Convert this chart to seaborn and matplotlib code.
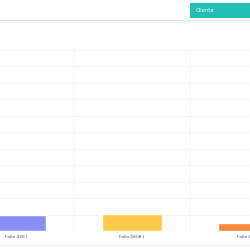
import matplotlib
matplotlib.use("Agg")
import matplotlib.pyplot as plt
import seaborn as sns
import pandas as pd
from matplotlib.patches import Rectangle

categories = ["Folio 426 |", "Folio 2608 |", "Folio 660 |"]
values = [1.0, 1.05, 0.49]
colors = ["#8890F6", "#FFCA4A", "#F5893A"]
button_label = "Cliente"

sns.set_theme(style="white")
plt.rcParams['font.family'] = ['DejaVu Sans']

fig = plt.figure(figsize=(2.5, 2.5), dpi=100)
fig.patch.set_facecolor("white")

# header elements
fig.add_artist(Rectangle((0, 1 - 21/250), 1, 1/250, transform=fig.transFigure,
                         color="#e4e4e4", lw=0))
fig.add_artist(Rectangle((0, 1 - 23/250), 1, 2/250, transform=fig.transFigure,
                         color="#f4f4f4", lw=0))
fig.add_artist(Rectangle((190/250, 1 - 18/250), 60/250, 15/250, transform=fig.transFigure,
                         color="#26BDB5", lw=0))
fig.text(196/250, 1 - 10.5/250, button_label, color="white", fontsize=3.8,
         va="center", ha="left")

ax = fig.add_axes([0, (250 - 231) / 250, 1, (231 - 50) / 250])
df = pd.DataFrame({"cat": categories, "val": values})
sns.barplot(data=df, x="cat", y="val", hue="cat", palette=colors, ax=ax,
            width=0.51, legend=False, saturation=1)

ax.set_xlim(-16/116, (250 - 16)/116)
ax.set_ylim(0, 11)
ax.set_yticks(range(1, 12))
ax.yaxis.grid(True, linestyle=(0, (1.2, 1.8)), color="#d8d8d8", lw=0.5)
ax.set_axisbelow(True)
for xv in [0.5, 1.5]:
    ax.axvline(xv, linestyle=(0, (1.2, 1.8)), color="#e0e0e0", lw=0.5, zorder=0)
for s in ax.spines.values():
    s.set_visible(False)
ax.tick_params(axis="y", left=False, labelleft=False)
ax.tick_params(axis="x", bottom=False, labelsize=3.2, colors="#444a66", pad=2.5, length=0)
ax.set_xlabel("")
ax.set_ylabel("")

fig.add_artist(Rectangle((0, 4/250), 1, 1/250, transform=fig.transFigure,
                         color="#eeeeee", lw=0))

fig.savefig("out.png", dpi=100, facecolor="white")
